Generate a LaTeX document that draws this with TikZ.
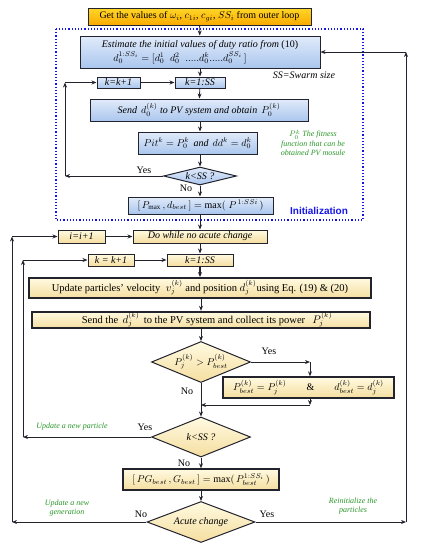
\documentclass[tikz,border=0pt]{standalone}
\usepackage{fontspec}
\setmainfont{Liberation Serif}
\setsansfont{Liberation Sans}
\usetikzlibrary{shapes.geometric,arrows.meta}
\definecolor{edge}{RGB}{35,35,45}
\definecolor{blueA}{RGB}{225,235,250}
\definecolor{blueB}{RGB}{170,198,238}
\definecolor{yelA}{RGB}{255,250,225}
\definecolor{yelB}{RGB}{245,222,160}
\definecolor{goldA}{RGB}{255,215,40}
\definecolor{goldB}{RGB}{250,170,0}
\definecolor{notegreen}{RGB}{40,150,40}
\definecolor{initblue}{RGB}{20,20,235}
\begin{document}
\begin{tikzpicture}[x=1pt,y=-1pt,
  bluebox/.style={draw=edge, line width=1pt, top color=blueA, bottom color=blueB, inner sep=1pt, font=\itshape},
  yellowbox/.style={draw=edge, line width=1pt, top color=yelA, bottom color=yelB, inner sep=1pt},
  ask/.style={diamond, draw=edge, line width=1pt, inner sep=0pt, font=\itshape},
  note/.style={text=notegreen, font=\footnotesize\itshape, align=center},
  arr/.style={draw=edge, line width=0.8pt, -{Stealth[length=5pt,width=4pt]}}]
\useasboundingbox (0,0) rectangle (431,550);

% initialization
\node[draw=edge, line width=1pt, top color=goldA, bottom color=goldB, minimum width=223, minimum height=17, inner sep=1pt] (get) at (199.5,16.5)
  {Get the values of $\omega_i$, $c_{1i}$, $c_{gi}$, $SS_i$ from outer loop};
\draw[draw=initblue, line width=1.2pt, dotted] (56,29) rectangle (363,220);
\node[bluebox, minimum width=240, minimum height=32, align=center, inner sep=0pt] (est) at (200,52)
  {Estimate the initial values of duty ratio from \textup{(10)}\\[2pt]
   $d_0^{1:SS_i}=[d_0^1\;\;d_0^2\;\;.....d_0^k.....d_0^{SS_i}\,]$\hspace*{40pt}};
\node[font=\itshape] (ss) at (304,75) {SS=Swarm size};
\node[bluebox, minimum width=43, minimum height=11] (kinc1) at (118.5,82.5) {k=k+1};
\node[bluebox, minimum width=50, minimum height=11] (kloop1) at (200,82.5) {k=1:SS};
\node[bluebox, minimum width=218, minimum height=22] (send0) at (199,110)
  {Send \,$d_0^{(k)}$ to PV system and obtain \,$P_0^{(k)}$};
\node[bluebox, minimum width=119, minimum height=22] (pit) at (197.5,143)
  {$Pit^k=P_0^k$ \,and\, $dd^k=d_0^k$};
\node[note] (fit) at (313,143) {$P_0^k$ The fitness\\function that can be\\obtained PV mosule};
\node[ask, top color=blueA, bottom color=blueB, minimum width=73, minimum height=18, aspect=4] (ask1) at (200,176) {k<SS ?};
\node (yes1) at (144,170) {Yes};
\node (no1) at (186,188) {No};
\node[bluebox, minimum width=145, minimum height=17, font=\upshape] (pmax) at (200.5,205.5)
  {$[\,P_{\max}\,,d_{best}\,]=\max(\;P^{\,1:SSi}\,)$};
\node[text=initblue, font=\sffamily\bfseries] (init) at (319,211) {Initialization};

% main loop
\node[yellowbox, minimum width=47, minimum height=13, font=\itshape] (iinc) at (81.5,236.5) {i=i+1};
\node[yellowbox, minimum width=134, minimum height=13, font=\itshape] (dowhile) at (200,236.5) {Do while no acute change};
\node[yellowbox, minimum width=46, minimum height=12, font=\itshape] (kinc2) at (111,260) {k = k+1};
\node[yellowbox, minimum width=66, minimum height=12, font=\itshape] (kloop2) at (200,260) {k=1:SS};
\node[yellowbox, line width=1.8pt, minimum width=342, minimum height=20, font=\fontsize{10.5}{12}\selectfont] (update) at (200,288)
  {Update particles' velocity \;$v_j^{(k)}$ and position $d_j^{(k)}$using Eq. (19) \& (20)};
\node[yellowbox, line width=1.8pt, minimum width=338, minimum height=16, font=\fontsize{10.5}{12}\selectfont] (sendj) at (201,320)
  {\hspace*{12pt}Send the \,$d_j^{(k)}$\, to the PV system and collect its power \;\,$P_j^{(k)}$};
\node[ask, top color=yelA, bottom color=yelB, minimum width=99, minimum height=41, aspect=2.4, font=\upshape] (ask2) at (201,362)
  {$P_j^{(k)}>P_{best}^{(k)}$};
\node (yes2) at (269,351) {Yes};
\node (no2) at (187,391) {No};
\node[yellowbox, line width=1.4pt, minimum width=171, minimum height=21] (pbest) at (308.5,387.5)
  {$P_{best}^{(k)}=P_j^{(k)}$\qquad\&\qquad$d_{best}^{(k)}=d_j^{(k)}$};
\node[ask, top color=yelA, bottom color=yelB, minimum width=99, minimum height=40, aspect=2.4] (ask3) at (201,437) {k<SS ?};
\node (yes3) at (145,427) {Yes};
\node[note] (newpart) at (72,427) {Update a new particle};
\node (no3) at (184,463) {No};
\node[yellowbox, line width=1.4pt, minimum width=156, minimum height=21] (pg) at (201,479.5)
  {$[\,PG_{best}\,,G_{best}\,]=\max(\,P_{best}^{1:SS_i}\,)$};
\node[ask, top color=yelA, bottom color=yelB, minimum width=108, minimum height=41, aspect=2.6] (acute) at (201,522) {Acute change};
\node (no4) at (141,514) {No};
\node (yes4) at (267,514) {Yes};
\node[note] (newgen) at (67,508) {Update a new\\generation};
\node[note] (reinit) at (353,506) {Reinitialize the\\particles};

% corner points
\coordinate (c1) at (65,176);
\coordinate (c2) at (65,82.5);
\coordinate (c3) at (310,362);
\coordinate (c4) at (310,405);
\coordinate (c5) at (201,405);
\coordinate (c6) at (23,437);
\coordinate (c7) at (23,260);
\coordinate (c8) at (12,522);
\coordinate (c9) at (12,236.5);
\coordinate (c10) at (406,522);
\coordinate (c11) at (406,52);

\path[arr] (get) -- (est);
\path[arr] (est) -- (kloop1);
\path[arr] (kinc1) -- (kloop1);
\path[arr] (kloop1) -- (send0);
\path[arr] (send0.south -| kloop1) -- (kloop1 |- pit.north);
\path[arr] (pit.south -| kloop1) -- (ask1);
\path[arr] (ask1) -- (pmax.north -| ask1);
\path[arr] (ask1) -- (c1);
\path[arr] (c1) -- (c2);
\path[arr] (c2) -- (kinc1);
\path[arr] (pmax.south -| dowhile) -- (dowhile);
\path[arr] (iinc) -- (dowhile);
\path[arr] (dowhile) -- (kloop2);
\path[arr] (kinc2) -- (kloop2);
\path[arr, line width=1.5pt] (kloop2) -- (update);
\path[arr] (update.south -| sendj) -- (sendj);
\path[arr] (sendj) -- (ask2);
\path[arr] (ask2) -- (c3);
\path[arr] (c3) -- (c3 |- pbest.north);
\path[arr] (c3 |- pbest.south) -- (c4);
\path[arr] (c4) -- (c5);
\path[arr] (ask2) -- (ask3);
\path[arr] (ask3) -- (c6);
\path[arr] (c6) -- (c7);
\path[arr] (c7) -- (kinc2);
\path[arr] (ask3) -- (pg);
\path[arr] (pg) -- (acute);
\path[arr] (acute) -- (c8);
\path[arr] (c8) -- (c9);
\path[arr] (c9) -- (iinc);
\path[arr] (acute) -- (c10);
\path[arr] (c10) -- (c11);
\path[arr] (c11) -- (est);
\end{tikzpicture}
\end{document}
